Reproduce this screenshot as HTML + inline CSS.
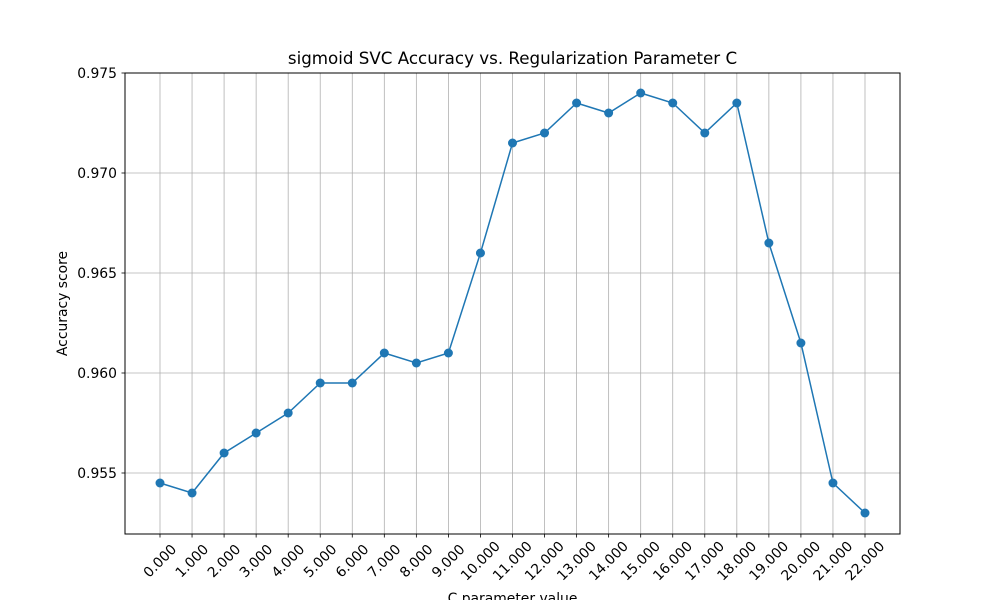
<!DOCTYPE html>
<html><head><meta charset="utf-8"><style>body{margin:0;background:#fff}svg{display:block;font-family:"DejaVu Sans","Liberation Sans",sans-serif}</style></head>
<body>
<svg id="chart" width="1000" height="600">
<rect x="0" y="0" width="1000" height="600" fill="#fff"/>
<g id="grid"></g>
<g id="ticks"></g>
<path id="line" fill="none" stroke="#1f77b4" stroke-width="1.5"/>
<g id="points"></g>
<rect x="125" y="73" width="775" height="461" fill="none" stroke="#000" stroke-width="1"/>
<text x="512.5" y="64" font-size="16.7" text-anchor="middle">sigmoid SVC Accuracy vs. Regularization Parameter C</text>
<text x="0" y="0" font-size="13.9" text-anchor="middle" transform="translate(67,303.5) rotate(-90)">Accuracy score</text>
<text x="512.5" y="603" font-size="13.9" text-anchor="middle">C parameter value</text>
</svg>
<script>
const categories = [0,1,2,3,4,5,6,7,8,9,10,11,12,13,14,15,16,17,18,19,20,21,22];
const accuracy = [0.9545,0.954,0.956,0.957,0.958,0.9595,0.9595,0.961,0.9605,0.961,0.966,0.9715,0.972,0.9735,0.973,0.974,0.9735,0.972,0.9735,0.9665,0.9615,0.9545,0.953];
const yTicks = [0.955,0.960,0.965,0.970,0.975];
const NS="http://www.w3.org/2000/svg";
const xs = i => 160 + i*(705/22);
const ys = v => 73 + (0.975 - v)/0.005*100;
const grid=document.getElementById('grid'), ticks=document.getElementById('ticks'), pts=document.getElementById('points');
function mk(tag, attrs, parent){const e=document.createElementNS(NS,tag);for(const k in attrs)e.setAttribute(k,attrs[k]);parent.appendChild(e);return e;}
categories.forEach((c,i)=>{
  const x=xs(i);
  const g=mk('line',{x1:x,x2:x,y1:73,y2:534,stroke:'#b0b0b0','stroke-width':0.8},grid);
  
  
  mk('line',{x1:x,x2:x,y1:534,y2:537.5,stroke:'#000','stroke-width':0.8},ticks);
  const t=mk('text',{x:0,y:4.5,'font-size':13.9,'text-anchor':'middle',transform:`translate(${x},561) rotate(-45)`},ticks);
  t.textContent=c.toFixed(3);
  
  
});
yTicks.forEach(v=>{
  const y=ys(v);
  const g=mk('line',{x1:125,x2:900,y1:y,y2:y,stroke:'#b0b0b0','stroke-width':0.8},grid);
  
  
  mk('line',{x1:121.5,x2:125,y1:y,y2:y,stroke:'#000','stroke-width':0.8},ticks);
  const t=mk('text',{x:117,y:y+5,'font-size':13.9,'text-anchor':'end'},ticks);
  t.textContent=v.toFixed(3);
  
  
});
document.getElementById('line').setAttribute('d',accuracy.map((v,i)=>(i?'L':'M')+xs(i)+','+ys(v)).join(''));
accuracy.forEach((v,i)=>{
  const p=mk('circle',{cx:xs(i),cy:ys(v),r:4.5,fill:'#1f77b4'},pts);
  
  
});
</script>
</body></html>
